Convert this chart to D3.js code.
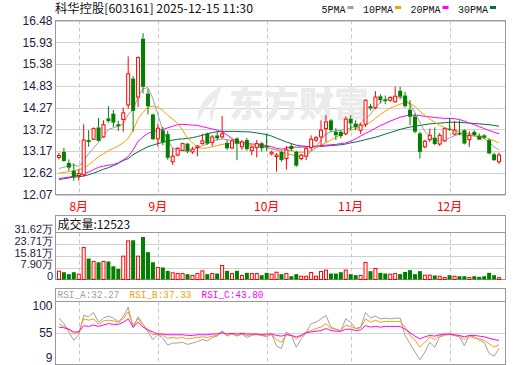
<!DOCTYPE html>
<html>
<head>
<meta charset="utf-8">
<script src="https://cdn.jsdelivr.net/npm/d3@7"></script>
<style>
body { margin:0; background:#fff }
svg { display:block }
</style>
</head>
<body>
<div id="chart"></div>
<script>
// daily candles, 2025-07 .. 2025-12-15 (index 0 = first visible day)
var open  = [13.01,13.15,12.87,12.67,12.55,12.57,13.45,13.47,13.77,13.53, 14.00,14.12,13.85,13.97,14.34,15.01,14.54,16.02,14.63,14.10,
             13.48,13.70,13.60,12.90,13.07,13.19,13.36,13.15,13.26,13.36, 13.61,13.39,13.57,13.53,13.38,13.25,13.49,13.28,13.45,13.18,
             13.26,13.37,13.30,13.10,13.03,13.15,12.98,13.30,13.15,12.98, 13.04,13.26,13.45,13.53,13.74,13.95,13.66,13.66,13.61,13.99,
             13.87,13.70,13.85,14.31,14.27,14.56,14.48,14.46,14.42,14.70, 14.58,14.22,14.05,13.62,13.28,13.46,13.51,13.35,13.43,13.74,
             13.60,13.63,13.70,13.46,13.66,13.55,13.57,13.45,13.09,12.90]
var close = [13.06,12.92,12.75,12.52,12.60,13.45,13.40,13.74,13.43,13.84, 13.93,13.89,13.80,14.14,15.13,14.19,15.54,14.80,14.31,13.47,
             13.75,13.40,13.00,13.04,13.24,13.36,13.17,13.22,13.30,13.43, 13.36,13.53,13.49,13.61,13.24,13.43,13.36,13.40,13.22,13.27,
             13.36,13.24,13.27,13.14,13.07,12.94,13.20,13.22,12.80,13.07, 13.24,13.47,13.51,13.70,13.91,13.70,13.57,13.55,13.98,13.87,
             13.77,13.83,14.46,14.25,14.54,14.46,14.44,14.53,14.56,14.55, 14.31,14.04,13.66,13.15,13.42,13.57,13.35,13.57,13.74,13.71,
             13.70,13.60,13.36,13.57,13.57,13.46,13.51,13.11,12.94,13.07]
var high  = [13.13,13.25,12.96,12.86,12.71,13.85,13.70,13.77,14.01,13.95, 14.31,14.21,13.94,14.27,15.57,15.07,15.57,16.16,14.75,14.12,
             13.87,13.78,13.68,13.25,13.27,13.38,13.38,13.28,13.32,13.61, 13.64,13.58,13.66,14.06,13.45,13.47,13.52,13.45,13.50,13.30,
             13.45,13.40,13.61,13.18,13.12,13.18,13.30,13.36,13.18,13.10, 13.30,13.57,13.55,13.95,14.08,13.98,13.75,13.70,14.05,14.08,
             13.95,13.88,14.48,14.37,14.69,14.61,14.58,14.56,14.80,14.80, 14.67,14.46,14.12,13.66,13.46,13.74,13.77,13.63,13.77,14.01,
             13.93,13.95,13.72,13.67,13.70,13.62,13.60,13.49,13.13,13.13]
var low   = [12.96,12.90,12.67,12.42,12.42,12.52,13.28,13.45,13.41,13.51, 13.89,13.78,13.68,13.66,14.24,13.66,14.29,14.63,14.10,13.45,
             13.28,13.32,12.95,12.82,13.04,13.17,13.12,13.10,13.04,13.33, 13.33,13.30,13.45,13.49,13.20,13.22,12.94,13.20,13.18,13.07,
             13.01,13.16,13.17,13.06,12.65,12.90,12.70,13.17,12.77,12.94, 12.94,13.19,13.40,13.28,13.40,13.66,13.45,13.50,13.57,13.70,
             13.70,13.61,13.78,14.20,14.23,14.38,14.36,14.42,14.40,14.48, 14.27,13.83,13.62,12.98,13.24,13.40,13.32,13.30,13.40,13.68,
             13.57,13.57,13.34,13.28,13.55,13.45,13.48,13.09,12.92,12.84]
// volume, in 万 (10k)
var volume = [5.6,4.9,3.6,4.9,3.6,21.5,14.1,12.1,11.6,12.1, 12.1,8.9,7.1,15.7,26.0,26.4,15.7,28.6,18.4,11.6,
              8.1,8.1,5.8,4.5,4.0,4.0,3.6,2.7,4.0,5.8, 3.6,4.0,4.0,9.4,5.8,4.0,5.8,2.7,4.5,4.0,
              4.0,2.9,4.5,3.6,4.9,3.6,4.0,2.2,3.6,2.2, 2.2,4.7,2.2,5.4,6.3,4.0,4.0,4.9,6.3,3.6,
              2.9,2.7,11.4,5.6,7.4,4.5,4.0,3.6,4.0,3.6, 5.1,6.3,3.6,5.6,2.9,2.9,2.7,2.2,1.3,2.9,
              2.2,2.2,2.2,1.3,2.2,1.8,2.2,4.5,2.9,1.25]
var ma5  = [12.73,12.76,12.80,12.82,12.78,12.92,13.10,13.25,13.40,13.55, 13.72,13.76,13.80,13.85,14.10,14.22,14.55,14.75,14.78,14.50,
            14.10,13.70,13.45,13.25,13.20,13.18,13.15,13.20,13.25,13.30, 13.35,13.42,13.45,13.48,13.46,13.44,13.38,13.35,13.33,13.30,
            13.30,13.28,13.28,13.22,13.20,13.14,13.10,13.08,13.04,13.03, 13.07,13.16,13.28,13.45,13.60,13.66,13.68,13.70,13.72,13.76,
            13.80,13.88,14.00,14.10,14.28,14.40,14.48,14.50,14.52,14.55, 14.50,14.35,14.15,13.90,13.66,13.55,13.45,13.44,13.46,13.50,
            13.56,13.60,13.56,13.56,13.55,13.52,13.49,13.40,13.28,13.20]
var ma10 = [12.61,12.63,12.65,12.67,12.70,12.73,12.82,12.92,13.03,13.10, 13.18,13.24,13.30,13.38,13.49,13.70,13.99,14.15,14.29,14.31,
            14.28,14.20,14.08,13.98,13.87,13.70,13.50,13.38,13.26,13.24, 13.25,13.28,13.31,13.34,13.36,13.37,13.37,13.36,13.35,13.34,
            13.32,13.29,13.26,13.23,13.20,13.19,13.20,13.18,13.15,13.14, 13.14,13.18,13.25,13.32,13.38,13.45,13.52,13.58,13.64,13.70,
            13.74,13.78,13.84,13.90,14.00,14.10,14.18,14.26,14.31,14.36, 14.40,14.38,14.30,14.18,14.08,13.98,13.90,13.82,13.77,13.72,
            13.69,13.66,13.63,13.61,13.59,13.56,13.53,13.48,13.43,13.38]
var ma20 = [12.48,12.49,12.51,12.53,12.56,12.60,12.64,12.70,12.76,12.79, 12.81,12.83,12.87,12.95,13.03,13.20,13.42,13.53,13.62,13.66,
            13.70,13.72,13.76,13.80,13.84,13.85,13.84,13.83,13.82,13.79, 13.76,13.73,13.70,13.66,13.58,13.49,13.42,13.39,13.37,13.35,
            13.34,13.33,13.31,13.28,13.24,13.22,13.25,13.27,13.27,13.27, 13.28,13.29,13.30,13.31,13.32,13.33,13.34,13.36,13.38,13.42,
            13.48,13.55,13.62,13.68,13.75,13.82,13.87,13.93,13.98,14.03, 14.06,14.08,14.08,14.07,14.05,14.04,14.02,14.01,14.00,14.00,
            13.99,13.97,13.93,13.88,13.84,13.79,13.74,13.69,13.65,13.61]
var ma30 = [12.45,12.47,12.49,12.51,12.52,12.54,12.57,12.61,12.66,12.71, 12.75,12.80,12.86,12.93,12.98,13.08,13.15,13.22,13.28,13.32,
            13.36,13.39,13.42,13.45,13.47,13.48,13.49,13.51,13.54,13.57, 13.61,13.64,13.66,13.67,13.67,13.67,13.67,13.66,13.66,13.65,
            13.63,13.61,13.59,13.55,13.50,13.45,13.40,13.36,13.32,13.30, 13.29,13.28,13.28,13.29,13.30,13.31,13.32,13.33,13.35,13.38,
            13.40,13.43,13.46,13.49,13.52,13.56,13.60,13.64,13.68,13.72, 13.75,13.78,13.80,13.82,13.84,13.86,13.87,13.88,13.89,13.90,
            13.90,13.90,13.89,13.88,13.87,13.86,13.85,13.84,13.82,13.80]
var rsiA = [76,68,56,44,52,80,78,84,70,76, 79,76,71,78,92,62,78,67,56,45,
            52,47,37,40,40,41,38,40,42,45, 43,48,50,58,50,54,50,53,48,51,
            53,51,49,53,36,32,56,51,34,46, 55,68,70,75,80,63,60,58,75,70,
            61,63,84,76,79,75,76,75,76,76, 51,39,27,16,27,41,34,49,51,53,
            51,49,36,51,49,44,41,25,21,32.27]
var rsiB = [68,64,60,53,56,75,73,75,67,72, 73,72,70,75,85,66,75,66,59,52,
            53,51,47,48,47,48,46,47,48,49, 48,50,51,55,51,53,51,53,51,52,
            52,51,51,52,45,41,53,51,46,50, 56,58,61,63,68,61,60,58,66,64,
            61,62,75,70,73,70,71,71,71,71, 63,51,44,34,41,49,45,51,52,52,
            51,50,45,50,47,46,44,39,34,37.33]
var rsiC = [63,62,60,56,56,65,64,66,64,66, 68,67,67,70,75,63,70,63,59,56,
            53,53,52,52,52,52,51,51,52,52, 52,53,53,55,53,54,53,54,53,53,
            53,52,53,53,51,50,52,51,49,51, 55,56,57,58,61,58,57,57,60,60,
            58,59,65,63,64,63,64,64,64,64, 60,55,50,46,49,51,50,52,53,53,
            52,51,49,51,51,50,49,47,45,43.8]

var priceTicks    = [16.48, 15.93, 15.38, 14.83, 14.27, 13.72, 13.17, 12.62, 12.07]
var volTicks      = [31.62, 23.71, 15.81, 7.90, 0]
var volTickLabels = ['31.62万', '23.71万', '15.81万', '7.90万', '0']
var rsiTicks      = [100, 55, 9]
var monthLabels   = ['8月', '9月', '10月', '11月', '12月']
var monthStart    = [4, 20, 42, 59, 79]   // index of first trading day of month
var maNames  = ['5PMA', '10PMA', '20PMA', '30PMA']
var maColors = ['#a0a0a0', '#f5a200', '#ff00ff', '#00703c']
var rsiNames = ['RSI_A', 'RSI_B', 'RSI_C']
var rsiColors = ['#a0a0a0', '#f5a200', '#ff00ff']

var title = '科华控股[603161] 2025-12-15 11:30'
var volLabel = '成交量'

var W = 520, H = 365
var L = 55.5, R = 505.5
var up = '#ff0000', down = '#008000'
var cjk = "'Noto Sans CJK SC', sans-serif"
var num = "'Liberation Sans', Arial, sans-serif"
var mono = "'Liberation Mono', 'DejaVu Sans Mono', monospace"

var svg = d3.select('#chart').append('svg')
    .attr('width', W)
    .attr('height', H)

var n = close.length
var x = d3.scaleBand().domain(d3.range(n)).range([56.5, 501.5])
var cx = i=> x(i) + x.bandwidth()/2

var y  = d3.scaleLinear().domain([12.07, 16.48]).range([194.5, 20.5])
var yv = d3.scaleLinear().domain([0, 31.62]).range([279.5, 232.5])
var yr = d3.scaleLinear().domain([9, 100]).range([364.5, 301.5])

//---------------------------------------------------------------- header
svg.append('text')
    .attr('x', 55).attr('y', 12.5)
    .attr('font-family', cjk).attr('font-size', 12)
    .attr('textLength', 198).attr('lengthAdjust', 'spacingAndGlyphs')
    .attr('fill', '#111')
    .text(title)

var lg = svg.append('g').attr('class', 'legend')
var lx = 321.5
maNames.forEach((name, k)=> {
    var tw = name.length*6
    lg.append('text')
        .attr('x', lx).attr('y', 12.5)
        .attr('font-family', mono).attr('font-size', 10.5)
        .attr('textLength', tw).attr('lengthAdjust', 'spacingAndGlyphs')
        .attr('fill', '#111')
        .text(name)
    lg.append('rect')
        .attr('x', lx + tw + 2).attr('y', 6)
        .attr('width', 6).attr('height', 3)
        .attr('fill', maColors[k])
    lx += tw + 2 + 6 + 9.5
})

//---------------------------------------------------------------- grids & frames
function vDashes(g, y0, y1) {
    g.selectAll('line.vd')
        .data(monthStart)
        .join('line')
        .attr('class', 'vd')
        .attr('x1', d=> Math.round(cx(d)) + 0.5)
        .attr('x2', d=> Math.round(cx(d)) + 0.5)
        .attr('y1', y0).attr('y2', y1)
        .attr('stroke', '#c8c8c8')
        .attr('stroke-dasharray', '4 3')
}

var grid = svg.append('g').attr('class', 'grid')
grid.selectAll('line.h')
    .data(priceTicks)
    .join('line')
    .attr('class', 'h')
    .attr('x1', L).attr('x2', R)
    .attr('y1', d=> Math.round(y(d)) + 0.5)
    .attr('y2', d=> Math.round(y(d)) + 0.5)
    .attr('stroke', '#d2d2d2')
vDashes(grid.append('g'), 20.5, 194.5)

var vgrid = svg.append('g')
vgrid.selectAll('line')
    .data(volTicks.slice(1, -1))
    .join('line')
    .attr('x1', L).attr('x2', R)
    .attr('y1', d=> Math.round(yv(d)) + 0.5)
    .attr('y2', d=> Math.round(yv(d)) + 0.5)
    .attr('stroke', '#d2d2d2')
vDashes(vgrid.append('g'), 232.5, 279.5)

var rgrid = svg.append('g')
rgrid.append('line')
    .attr('x1', L).attr('x2', R)
    .attr('y1', Math.round(yr(55)) + 0.5).attr('y2', Math.round(yr(55)) + 0.5)
    .attr('stroke', '#d2d2d2')
vDashes(rgrid.append('g'), 301.5, 364.5)

// watermark
var wm = svg.append('g').attr('fill', '#ebebeb')
wm.append('path')
    .attr('transform', 'translate(192,86)')
    .attr('d', 'M30,0 C14,8 4,22 6,36 C10,26 16,18 24,12 C18,22 16,30 20,36 C22,22 26,10 30,0 Z')
wm.append('text')
    .attr('x', 229).attr('y', 117)
    .attr('font-family', cjk).attr('font-size', 35).attr('font-weight', 900)
    .text('东方财富')

var frames = svg.append('g').attr('fill', 'none').attr('stroke', '#999')
frames.append('rect').attr('x', L).attr('y', 20.5).attr('width', R-L).attr('height', 174)
frames.append('rect').attr('x', L).attr('y', 215.5).attr('width', R-L).attr('height', 64)
frames.append('line').attr('x1', L).attr('x2', R).attr('y1', 232.5).attr('y2', 232.5)
frames.append('rect').attr('x', L).attr('y', 288.5).attr('width', R-L).attr('height', 76)
frames.append('line').attr('x1', L).attr('x2', R).attr('y1', 301.5).attr('y2', 301.5)

//---------------------------------------------------------------- axes labels
svg.append('g').selectAll('text')
    .data(priceTicks)
    .join('text')
    .attr('x', 52.5).attr('y', d=> y(d) + 4.3)
    .attr('text-anchor', 'end')
    .attr('font-family', num).attr('font-size', 12)
    .attr('fill', '#1c1c3c')
    .text(d=> d.toFixed(2))

svg.append('g').selectAll('text')
    .data(volTicks)
    .join('text')
    .attr('x', 53).attr('y', d=> yv(d) + 0.5)
    .attr('text-anchor', 'end')
    .attr('font-family', num).attr('font-size', 11)
    .attr('fill', '#1c1c3c')
    .text((d, i)=> volTickLabels[i])

var rsiLabelY = [310, 337.3, 361.8]
svg.append('g').selectAll('text')
    .data(rsiTicks)
    .join('text')
    .attr('x', 52.5).attr('y', (d, i)=> rsiLabelY[i])
    .attr('text-anchor', 'end')
    .attr('font-family', num).attr('font-size', 12)
    .attr('fill', '#1c1c3c')
    .text(d=> d)

svg.append('g').selectAll('text')
    .data(monthStart)
    .join('text')
    .attr('x', d=> cx(d)).attr('y', 210.5)
    .attr('text-anchor', 'middle')
    .attr('font-family', cjk).attr('font-size', 12)
    .attr('fill', up)
    .text((d, i)=> monthLabels[i])

//---------------------------------------------------------------- MA lines
var maSeries = [ma5, ma10, ma20, ma30]
var lineP = d3.line().x((d, i)=> cx(i)).y(d=> y(d))
svg.append('g').selectAll('path')
    .data(maSeries.slice().reverse())
    .join('path')
    .attr('d', lineP)
    .attr('fill', 'none')
    .attr('stroke', (d, i)=> maColors[3-i])
    .attr('stroke-width', 1)

//---------------------------------------------------------------- candles
var isUp = i=> close[i] >= open[i]
var cg = svg.append('g').attr('class', 'candles')
var idx = d3.range(n)

cg.selectAll('line.wh')
    .data(idx)
    .join('line')
    .attr('class', 'wh')
    .attr('x1', cx).attr('x2', cx)
    .attr('y1', i=> y(high[i]))
    .attr('y2', i=> y(Math.max(open[i], close[i])))
    .attr('stroke', i=> isUp(i) ? up : down)
cg.selectAll('line.wl')
    .data(idx)
    .join('line')
    .attr('class', 'wl')
    .attr('x1', cx).attr('x2', cx)
    .attr('y1', i=> y(Math.min(open[i], close[i])))
    .attr('y2', i=> y(low[i]))
    .attr('stroke', i=> isUp(i) ? up : down)

cg.selectAll('rect')
    .data(idx)
    .join('rect')
    .attr('x', i=> isUp(i) ? cx(i) - 1.5 : cx(i) - 2)
    .attr('width', i=> isUp(i) ? 3 : 4)
    .attr('y', i=> y(Math.max(open[i], close[i])))
    .attr('height', i=> Math.max(1, y(Math.min(open[i], close[i])) - y(Math.max(open[i], close[i]))))
    .attr('fill', i=> isUp(i) ? '#fff' : down)
    .attr('stroke', i=> isUp(i) ? up : 'none')

//---------------------------------------------------------------- volume
svg.append('text')
    .attr('x', 57.5).attr('y', 228.5)
    .attr('font-family', cjk).attr('font-size', 12)
    .attr('fill', '#111')
    .text(volLabel + ':' + Math.round(volume[n-1]*10000 + 23))

svg.append('g').selectAll('rect')
    .data(idx)
    .join('rect')
    .attr('x', i=> isUp(i) ? cx(i) - 1.5 : cx(i) - 2)
    .attr('width', i=> isUp(i) ? 3 : 4)
    .attr('y', i=> yv(volume[i]))
    .attr('height', i=> yv(0) - yv(volume[i]))
    .attr('fill', i=> isUp(i) ? '#fff' : down)
    .attr('stroke', i=> isUp(i) ? up : 'none')

//---------------------------------------------------------------- RSI
var rsiSeries = [rsiA, rsiB, rsiC]
var lineR = d3.line().x((d, i)=> cx(i)).y(d=> yr(d))
svg.append('g').selectAll('path')
    .data(rsiSeries)
    .join('path')
    .attr('d', lineR)
    .attr('fill', 'none')
    .attr('stroke', (d, i)=> rsiColors[i])
    .attr('stroke-width', 1)

var rh = svg.append('g')
rsiSeries.forEach((s, k)=> {
    var s0 = rsiNames[k] + ':' + s[n-1].toFixed(2)
    rh.append('text')
        .attr('x', 57.5 + k*72).attr('y', 298)
        .attr('font-family', mono).attr('font-size', 11)
        .attr('textLength', 62).attr('lengthAdjust', 'spacingAndGlyphs')
        .attr('fill', rsiColors[k])
        .text(s0)
})
</script>
</body>
</html>
